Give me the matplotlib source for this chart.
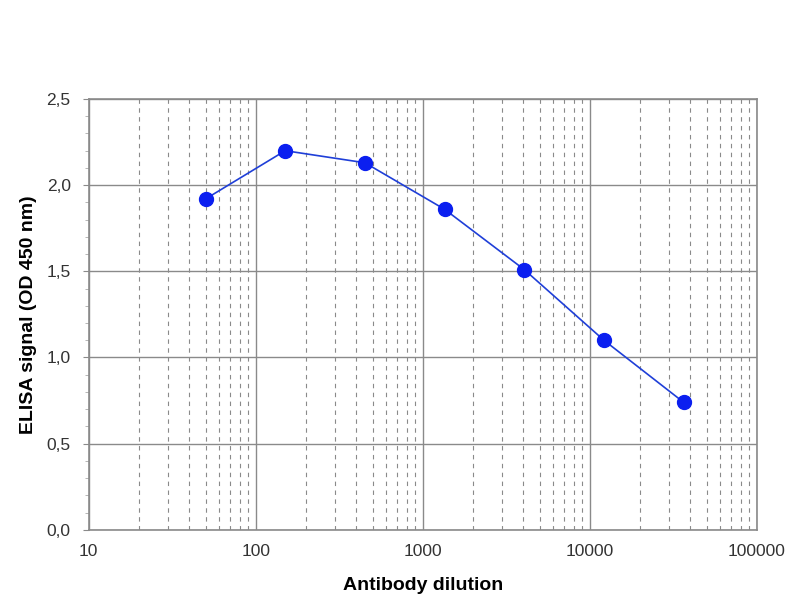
import numpy as np
import matplotlib.pyplot as plt
from matplotlib.ticker import FixedLocator, FuncFormatter, LogLocator, NullFormatter

plt.rcParams['font.family'] = ['Liberation Sans', 'DejaVu Sans']

# данные
dilution = [50, 150, 450, 1350, 4050, 12150, 36450]
signal = [1.92, 2.20, 2.13, 1.86, 1.51, 1.10, 0.74]

y_ticks = [0.0, 0.5, 1.0, 1.5, 2.0, 2.5]
x_ticks = [10, 100, 1000, 10000, 100000]

fig = plt.figure(figsize=(8, 6), dpi=100)
ax = fig.add_axes([0.111, 0.117, 0.835, 0.718])

ax.plot(dilution, signal, color='#1f3fd8', lw=1.2, zorder=3)
ax.plot(dilution, signal, 'o', color='#0b1ff0', ms=10, zorder=4)

ax.set_xscale('log')
ax.set_xlim(10, 100000)
ax.set_ylim(0, 2.5)

ax.xaxis.set_major_locator(FixedLocator(x_ticks))
ax.xaxis.set_major_formatter(FuncFormatter(lambda v, p: f"{int(v)}"))
ax.xaxis.set_minor_locator(LogLocator(base=10, subs=np.arange(2, 10)))
ax.xaxis.set_minor_formatter(NullFormatter())

ax.yaxis.set_major_locator(FixedLocator(y_ticks))
ax.yaxis.set_minor_locator(FixedLocator(np.arange(0, 2.51, 0.1)))
ax.yaxis.set_major_formatter(FuncFormatter(lambda v, p: f"{v:.1f}".replace('.', ',')))

ax.grid(which='major', axis='both', color='#8a8a8a', lw=1.0)
ax.grid(which='minor', axis='x', color='#8a8a8a', lw=0.8, ls=(0, (4, 4)))

for s in ax.spines.values():
    s.set_color('#8a8a8a')
    s.set_linewidth(1.2)

ax.tick_params(axis='x', which='both', length=0, pad=10, labelsize=12.5, colors='#333333')
ax.tick_params(axis='y', which='major', length=4, pad=9, color='#8a8a8a', labelsize=12.5, labelcolor='#333333')
ax.tick_params(axis='y', which='minor', length=3, color='#aaaaaa')

ax.set_xlabel('Antibody dilution', fontsize=14, fontweight='bold', labelpad=13)
ax.set_ylabel('ELISA signal (OD 450 nm)', fontsize=14, fontweight='bold', labelpad=7)

fig.savefig('out.png', dpi=100)
